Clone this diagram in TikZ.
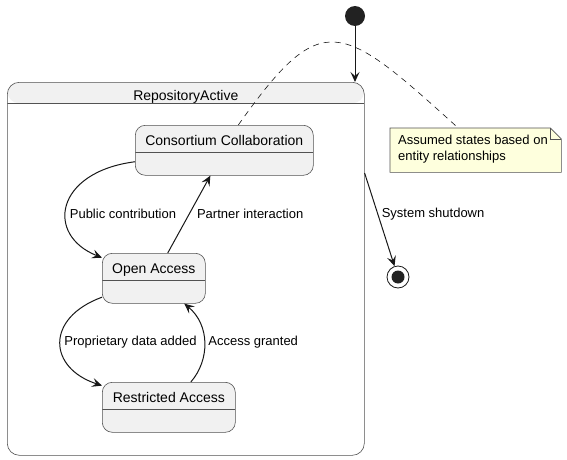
\documentclass[tikz,border=0pt]{standalone}
\usepackage{fontspec}
\setmainfont{Liberation Sans}
\usetikzlibrary{arrows.meta,positioning}
\definecolor{statefill}{HTML}{F1F1F1}
\definecolor{stateline}{HTML}{181818}
\definecolor{notefill}{HTML}{FEFFDD}
\definecolor{dotfill}{HTML}{222222}

\begin{document}
\begin{tikzpicture}[x=1pt, y=-1pt,
    statebox/.style={rectangle, draw=stateline!75, line width=0.6pt, fill=statefill, rounded corners=10,
        minimum height=50, anchor=north west,
        path picture={\draw[stateline!75, line width=0.6pt] ([yshift=-27]path picture bounding box.north west) -- ([yshift=-27]path picture bounding box.north east);}},
    compbox/.style={rectangle, draw=stateline!75, line width=0.6pt, fill=white, rounded corners=12, anchor=north west,
        path picture={\fill[statefill] (path picture bounding box.north west) rectangle ([yshift=-21]path picture bounding box.north east);
        \draw[stateline!75, line width=0.6pt] ([yshift=-21]path picture bounding box.north west) -- ([yshift=-21]path picture bounding box.north east);}},
    statename/.style={font=\fontsize{14}{16}\selectfont, inner sep=0, anchor=base},
    lbl/.style={font=\fontsize{13}{15}\selectfont, inner sep=3.5pt, anchor=west},
    trans/.style={draw=stateline, line width=1pt, -{Stealth[length=10pt, width=9pt, inset=4pt]}},
    ]
    \useasboundingbox (0,0) rectangle (567,460);

    \node (repo) [compbox, minimum width=357, minimum height=373] at (7,82) {};
    \node (repo-name) [statename] at ([yshift=-18]repo.north) {RepositoryActive};

    \node (consortium) [statebox, minimum width=178] at (135,125) {};
    \node (consortium-name) [statename] at ([yshift=-20]consortium.north) {Consortium Collaboration};
    \node (open) [statebox, minimum width=103] at (102,253) {};
    \node (open-name) [statename] at ([yshift=-20]open.north) {Open Access};
    \node (restricted) [statebox, minimum width=133] at (102,382) {};
    \node (restricted-name) [statename] at ([yshift=-20]restricted.north) {Restricted Access};

    \node (init) [circle, fill=dotfill, minimum size=20, inner sep=0] at (355,16) {};
    \node (final) [circle, draw=stateline, line width=0.8pt, fill=white, minimum size=22, inner sep=0] at (398,277) {};
    \node (final-dot) [circle, fill=dotfill, minimum size=13, inner sep=0] at (final) {};

    \node (note) [rectangle, minimum width=171, minimum height=44, anchor=north west] at (390,128) {};
    \filldraw[fill=notefill, draw=stateline!75, line width=0.6pt]
        (note.north west) -- ([xshift=-11]note.north east) -- ([yshift=-11]note.north east)
        -- (note.south east) -- (note.south west) -- cycle;
    \draw[stateline!75, line width=0.6pt] ([xshift=-11]note.north east) |- ([yshift=-11]note.north east);
    \node (note-text) [font=\fontsize{13}{15.3}\selectfont, align=left, anchor=west, inner sep=0] at ([xshift=8, yshift=1]note.west) {Assumed states based on\\entity relationships};

    \draw[stateline, line width=0.6pt, dash pattern=on 6pt off 5pt]
        ([xshift=14]consortium.north) .. controls (322,7) and (340,21) .. ([xshift=-17.5]note.north);

    \draw[trans] (init) -- (init |- repo.north);
    \draw[trans] ([yshift=-91]repo.north east) -- (final) node[lbl, pos=0.44] {System shutdown};
    \draw[trans] (consortium) .. controls (55,172) and (45,235) .. (open) node[lbl, pos=0.575] {Public contribution};
    \draw[trans] (open) -- (consortium) node[lbl, pos=0.5, xshift=4] {Partner interaction};
    \draw[trans] (open) .. controls (45,318) and (48,368) .. (restricted) node[lbl, pos=0.5] {Proprietary data added};
    \draw[trans] (restricted) .. controls (210,360) and (210,325) .. (open) node[lbl, pos=0.5] {Access granted};
\end{tikzpicture}
\end{document}
